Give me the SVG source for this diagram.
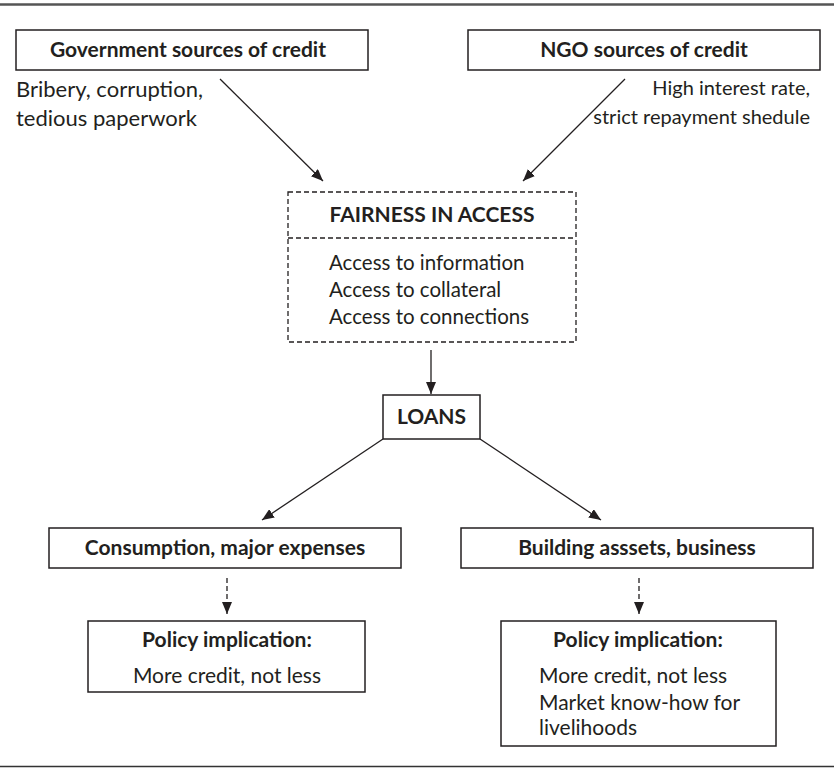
<svg xmlns="http://www.w3.org/2000/svg" width="834" height="768" viewBox="0 0 834 768">
<style>
text{font-family:Lato,"Open Sans","Liberation Sans",sans-serif;fill:#231f20;font-size:21px}
.b{font-weight:bold}
.n{font-size:22px}
.m{font-size:20px}
.f{font-size:20.5px}
.box{fill:#fff;stroke:#231f20;stroke-width:1.5}
.dbox{fill:none;stroke:#231f20;stroke-width:1.3;stroke-dasharray:5 3}
.c{fill:none;stroke:#231f20;stroke-width:1.3}
.cd{fill:none;stroke:#231f20;stroke-width:1.3;stroke-dasharray:5 3}
</style>
<defs>
<marker id="ah" viewBox="0 0 12 10" refX="12" refY="5" markerWidth="12" markerHeight="10" markerUnits="userSpaceOnUse" orient="auto">
<path d="M0,0 L12,5 L0,10 z" fill="#231f20"/>
</marker>
</defs>
<rect width="834" height="768" fill="#fff"/>
<line x1="0" y1="4.5" x2="834" y2="4.5" stroke="#555" stroke-width="2.5"/>
<line x1="0" y1="766.5" x2="834" y2="766.5" stroke="#333" stroke-width="1.5"/>
<g id="connectors">
<line class="c" x1="220" y1="79" x2="323" y2="181" marker-end="url(#ah)"/>
<line class="c" x1="625" y1="79" x2="523" y2="181" marker-end="url(#ah)"/>
<line class="c" x1="431" y1="350" x2="431" y2="394" marker-end="url(#ah)"/>
<line class="c" x1="383" y1="439" x2="262" y2="520" marker-end="url(#ah)"/>
<line class="c" x1="480" y1="439" x2="601" y2="520" marker-end="url(#ah)"/>
<line class="cd" x1="227" y1="578" x2="227" y2="614" marker-end="url(#ah)"/>
<line class="cd" x1="639" y1="578" x2="639" y2="614" marker-end="url(#ah)"/>
</g>
<g id="gov">
<rect class="box" x="16" y="30" width="352" height="40"/>
<text class="b" x="188" y="57" text-anchor="middle">Government sources of credit</text>
</g>
<g id="gov-note">
<text class="n" x="16" y="97">Bribery, corruption,</text>
<text class="n" x="16" y="126">tedious paperwork</text>
</g>
<g id="ngo">
<rect class="box" x="468" y="30" width="352" height="40"/>
<text class="b" x="644" y="57" text-anchor="middle">NGO sources of credit</text>
</g>
<g id="ngo-note">
<text class="m" x="810" y="95" text-anchor="end">High interest rate,</text>
<text class="m" x="810" y="124" text-anchor="end">strict repayment shedule</text>
</g>
<g id="fairness">
<rect class="dbox" x="288" y="192" width="288" height="150"/>
<line class="dbox" x1="288" y1="238" x2="576" y2="238"/>
<text class="b" x="432" y="222" text-anchor="middle">FAIRNESS IN ACCESS</text>
<text class="f" x="329" y="270">Access to information</text>
<text class="f" x="329" y="297">Access to collateral</text>
<text class="f" x="329" y="324">Access to connections</text>
</g>
<g id="loans">
<rect class="box" x="383" y="395" width="97" height="44"/>
<text class="b" x="431.5" y="424" text-anchor="middle">LOANS</text>
</g>
<g id="consumption">
<rect class="box" x="49" y="528" width="352" height="40"/>
<text class="b" x="225" y="555" text-anchor="middle">Consumption, major expenses</text>
</g>
<g id="building">
<rect class="box" x="461" y="528" width="352" height="40"/>
<text class="b" x="637" y="555" text-anchor="middle">Building asssets, business</text>
</g>
<g id="policy-left">
<rect class="box" x="88" y="621" width="277" height="71"/>
<text class="b" x="227" y="647" text-anchor="middle">Policy implication:</text>
<text x="227" y="683" text-anchor="middle">More credit, not less</text>
</g>
<g id="policy-right">
<rect class="box" x="501" y="621" width="275" height="125"/>
<text class="b" x="638" y="647" text-anchor="middle">Policy implication:</text>
<text x="539" y="683">More credit, not less</text>
<text x="539" y="710">Market know-how for</text>
<text x="539" y="735">livelihoods</text>
</g>
</svg>
